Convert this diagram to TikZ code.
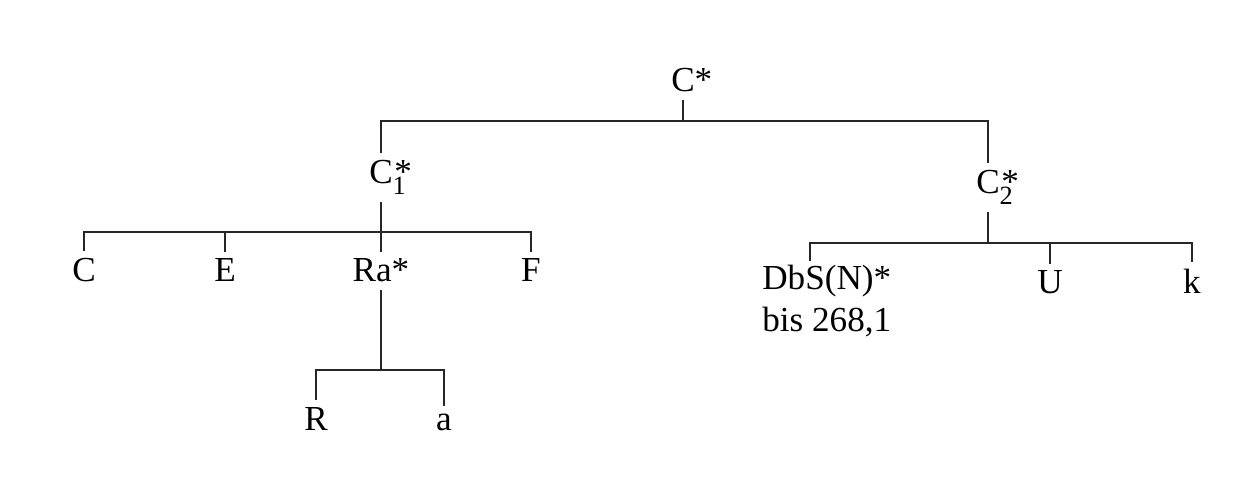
\documentclass[tikz,border=0pt]{standalone}
\usepackage{fontspec}
\setmainfont{Liberation Serif}
\usetikzlibrary{calc}

% C with star above a subscript index
\newcommand{\cstarsub}[1]{C\rlap{\raisebox{-0.3em}{\fontsize{15}{15}\selectfont #1}}\rlap{\hspace{0.05em}*}}

\begin{document}
\begin{tikzpicture}[
  lbl/.style={anchor=base, inner sep=4pt, font=\fontsize{20}{24}\selectfont},
  br/.style={line width=0.8pt, black!85}
]
  \useasboundingbox (0,0) rectangle (25.08,-9.88);

  % nodes of the tree
  \node[lbl] (root) at (13.66,-1.84) {C\rlap{*}};
  \node[lbl] (c1)   at (7.62,-3.68)  {\cstarsub{1}};
  \node[lbl] (c2)   at (19.76,-3.88) {\cstarsub{2}};
  \node[lbl] (cc)   at (1.68,-5.64)  {C};
  \node[lbl] (ee)   at (4.5,-5.64)   {E};
  \node[lbl] (ra)   at (7.62,-5.64)  {Ra*};
  \node[lbl] (ff)   at (10.62,-5.64) {F};
  \node[lbl, anchor=north west, align=left, inner sep=0pt] (dbs) at (15.24,-5.3)
       {DbS(N)*\\bis 268,1};
  \node[lbl] (uu)   at (21.0,-5.88)  {U};
  \node[lbl] (kk)   at (23.84,-5.88) {k};
  \node[lbl] (rr)   at (6.32,-8.6)   {R};
  \node[lbl] (aa)   at (8.88,-8.6)   {a};

  % junctions
  \coordinate (j0) at (13.66,-2.42);
  \coordinate (j1) at (7.62,-4.64);
  \coordinate (j2) at (19.76,-4.86);
  \coordinate (j3) at (7.62,-7.4);
  \coordinate (dtop) at (16.2,-5.22);

  % branches
  \draw[br] (root) -- (j0);
  \draw[br] (c1) |- (j0) -| (c2);
  \draw[br] (c1) -- (ra);
  \draw[br] (cc) |- (j1) -| (ff);
  \draw[br] (ee) -- (ee |- j1);
  \draw[br] (c2) -- (j2);
  \draw[br] (dtop) |- (j2) -| (kk);
  \draw[br] (uu) -- (uu |- j2);
  \draw[br] (ra) -- (j3);
  \draw[br] (rr) |- (j3) -| (aa);
\end{tikzpicture}
\end{document}
